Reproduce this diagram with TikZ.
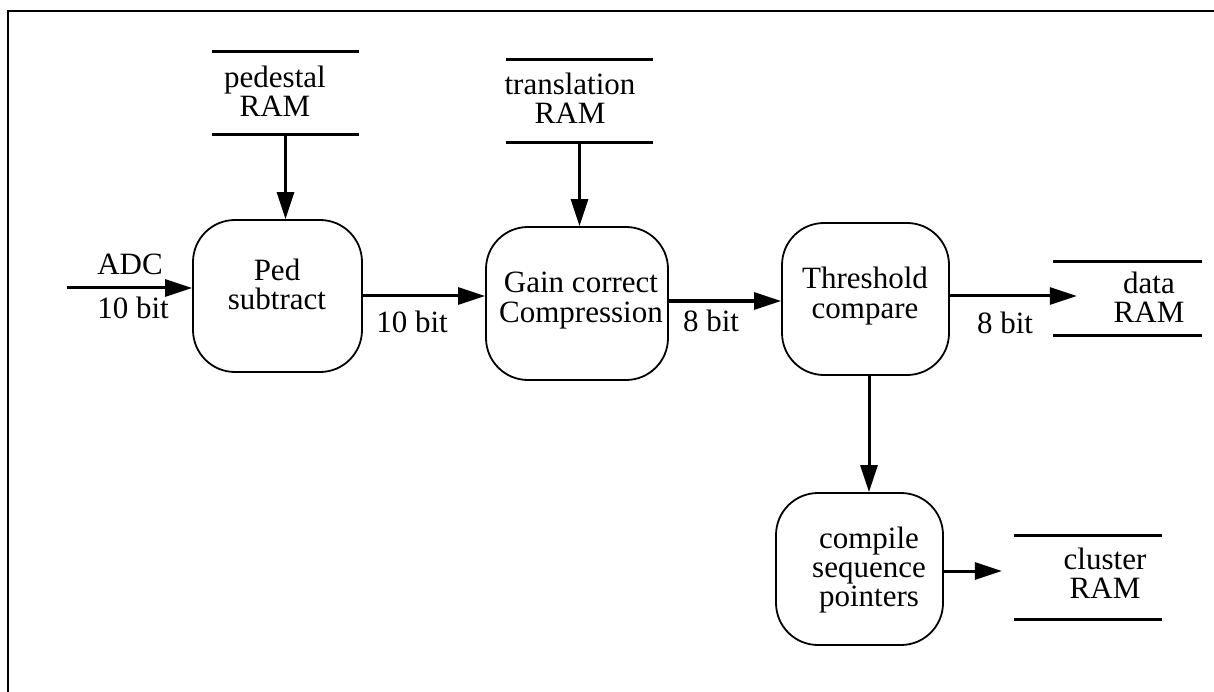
\documentclass[tikz,border=0pt]{standalone}
\usepackage{fontspec}
\setmainfont{Liberation Serif}
\usetikzlibrary{arrows.meta}
\begin{document}
\begin{tikzpicture}[x=1pt,y=-1pt,
  font=\fontsize{31}{29}\selectfont,
  proc/.style={draw, line width=1.8pt, rounded corners=42pt, inner sep=0pt},
  store/.style={inner sep=0pt},
  lbl/.style={inner sep=0pt, anchor=base, align=center},
  flow/.style={line width=3pt, -{Triangle[length=27pt,width=17pt]}},
  ramline/.style={line width=3pt}]
\useasboundingbox (0,0) rectangle (1214,692);
\draw[line width=2pt] (8,692) -- (8,11) -- (1214,11);

% process boxes
\node[proc, minimum width=169pt, minimum height=152pt] (ped) at (277.5,296) {};
\node[proc, minimum width=182pt, minimum height=153pt] (gain) at (577,303.5) {};
\node[proc, minimum width=167pt, minimum height=152pt] (thr) at (865.5,299) {};
\node[proc, minimum width=167pt, minimum height=152pt] (comp) at (859.5,569) {};

% stores
\node[store, minimum width=147pt, minimum height=82pt] (pedram) at (285.5,93) {};
\node[store, minimum width=147pt, minimum height=82pt] (trram) at (579.5,101) {};
\node[store, minimum width=149pt, minimum height=73pt] (datram) at (1127.5,298.5) {};
\node[store, minimum width=148pt, minimum height=83pt] (clram) at (1088,577.5) {};
\foreach \s in {pedram,trram,datram,clram}{
  \draw[ramline] (\s.north west) -- (\s.north east) (\s.south west) -- (\s.south east);
}

% texts (base = baseline of the last line)
\node[lbl] (pedramt) at (275,117) {pedestal\\RAM};
\node[lbl] (trramt) at (570,124) {translation\\RAM};
\node[lbl] (datramt) at (1149,323) {data\\RAM};
\node[lbl] (clramt) at (1105,598) {cluster\\RAM};
\node[lbl] (pedt) at (277,309) {Ped\\subtract};
\node[lbl] (gaint) at (581,322) {Gain correct\\Compression};
\node[lbl] (thrt) at (865,318) {Threshold\\compare};
\node[lbl] (compt) at (869,606) {compile\\sequence\\pointers};
\node[lbl] (adct) at (130,275) {ADC};
\node[lbl] (b1) at (133,319) {10 bit};
\node[lbl] (b2) at (412,332) {10 bit};
\node[lbl] (b3) at (711,331) {8 bit};
\node[lbl] (b4) at (1005,333) {8 bit};

% connectors
\coordinate (adcin) at (67,288);
\coordinate (din) at ([xshift=24pt]datram.west);
\coordinate (cin) at ([xshift=-12pt]clram.west);
\draw[flow] (adcin) -- (adcin -| ped.west);
\draw[flow] (pedram.south) -- (pedram.south |- ped.north);
\draw[flow] (trram.south) -- (trram.south |- gain.north);
\draw[flow] (ped.east) -- (ped.east -| gain.west);
\draw[flow] ([yshift=2.5pt]gain.east) -- ([yshift=2.5pt]gain.east -| thr.west);
\draw[flow] ([yshift=3pt]thr.east) -- ([yshift=3pt]thr.east -| din);
\draw[flow] ([xshift=3.5pt]thr.south) -- ([xshift=3.5pt]thr.south |- comp.north);
\draw[flow] ([yshift=-2pt]comp.east) -- ([yshift=-2pt]comp.east -| cin);
\end{tikzpicture}
\end{document}
